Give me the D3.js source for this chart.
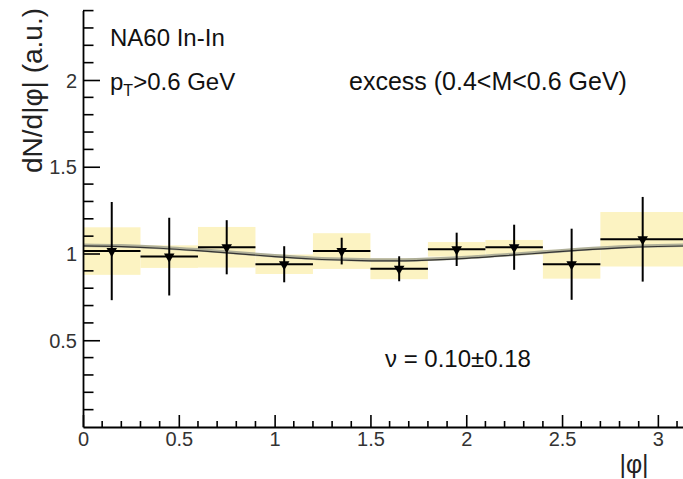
<!DOCTYPE html>
<html>
<head>
<meta charset="utf-8">
<script src="https://cdn.jsdelivr.net/npm/d3@7/dist/d3.min.js"></script>
<style>
  html, body { margin: 0; padding: 0; background: #fff; }
  svg { display: block; font-family: "Liberation Sans", Arial, Helvetica, sans-serif; }
</style>
</head>
<body>
<svg id="chart" width="683" height="479"></svg>
<script>
// |phi| bins (last bin closes at pi)
const binLow  = [0.0, 0.3, 0.6, 0.9, 1.2, 1.5, 1.8, 2.1, 2.4, 2.7];
const binHigh = [0.3, 0.6, 0.9, 1.2, 1.5, 1.8, 2.1, 2.4, 2.7, Math.PI];

// excess yield per bin, statistical and systematic errors
const yieldVal = [1.014, 0.982, 1.036, 0.938, 1.014, 0.912, 1.024, 1.036, 0.938, 1.082];
const statErr  = [0.283, 0.224, 0.156, 0.104, 0.077, 0.072, 0.096, 0.130, 0.205, 0.244];
const sysErr   = [0.137, 0.065, 0.117, 0.056, 0.103, 0.060, 0.042, 0.042, 0.083, 0.157];

// fitted curve sampled along |phi|
const fitPhi = [0.0, 0.2, 0.4, 0.6, 0.8, 1.0, 1.2, 1.4, 1.6, 1.8, 2.0, 2.2, 2.4, 2.6, 2.8, 3.0, Math.PI];
const fitVal = [1.048, 1.044, 1.035, 1.021, 1.004, 0.987, 0.973, 0.965, 0.962, 0.967, 0.977, 0.992, 1.008, 1.024, 1.037, 1.045, 1.048];

// axis ticks and labels
const xMajor = [0, 0.5, 1, 1.5, 2, 2.5, 3];
const xLabels = ["0", "0.5", "1", "1.5", "2", "2.5", "3"];
const yMajor = [0.5, 1, 1.5, 2];
const yLabels = ["0.5", "1", "1.5", "2"];

const svg = d3.select("#chart");

const x = d3.scaleLinear().domain([0, Math.PI]).range([83, 685]);
const y = d3.scaleLinear().domain([0, 2.4]).range([427, 10.6]);

const bins = binLow.map((lo, i) => ({
  lo, hi: binHigh[i], c: (lo + binHigh[i]) / 2,
  v: yieldVal[i], e: statErr[i], s: sysErr[i]
}));

// systematic boxes
svg.append("g").selectAll("rect").data(bins).join("rect")
  .attr("x", d => x(d.lo))
  .attr("width", d => x(d.hi) - x(d.lo))
  .attr("y", d => y(d.v + d.s))
  .attr("height", d => y(d.v - d.s) - y(d.v + d.s))
  .attr("fill", "#fcf3c2");

// fit curve
const fitPts = fitPhi.map((p, i) => [p, fitVal[i]]);
const fitLine = d3.line().x(d => x(d[0])).y(d => y(d[1])).curve(d3.curveMonotoneX);
svg.append("path").datum(fitPts)
  .attr("d", fitLine).attr("fill", "none")
  .attr("stroke", "#afaf98").attr("stroke-width", 3.5);
svg.append("path").datum(fitPts)
  .attr("d", fitLine).attr("fill", "none")
  .attr("stroke", "#333").attr("stroke-width", 1.2)
  .attr("transform", "translate(0,0.8)");

// data points with error bars
const pts = svg.append("g");
pts.selectAll("line.h").data(bins).join("line").attr("class", "h")
  .attr("x1", d => x(d.lo)).attr("x2", d => x(d.hi))
  .attr("y1", d => y(d.v)).attr("y2", d => y(d.v))
  .attr("stroke", "#000").attr("stroke-width", 2);
pts.selectAll("line.v").data(bins).join("line").attr("class", "v")
  .attr("x1", d => x(d.c)).attr("x2", d => x(d.c))
  .attr("y1", d => y(d.v + d.e)).attr("y2", d => y(d.v - d.e))
  .attr("stroke", "#000").attr("stroke-width", 2);
pts.selectAll("path").data(bins).join("path")
  .attr("d", d3.symbol(d3.symbolTriangle, 48))
  .attr("transform", d => `translate(${x(d.c)},${y(d.v)}) rotate(180)`)
  .attr("fill", "#000");

// axes
const axisColor = "#000";
const xMinor = d3.range(0, 32).map(i => i / 10).filter(v => !xMajor.some(m => Math.abs(m - v) < 1e-6));
const yMinor = d3.range(0, 25).map(i => i / 10).filter(v => !yMajor.some(m => Math.abs(m - v) < 1e-6) && v > 0);

const gx = svg.append("g").attr("transform", `translate(0,${y(0)})`);
gx.call(d3.axisBottom(x).tickValues(xMajor).tickFormat((d, i) => xLabels[i])
  .tickSizeInner(-12).tickSizeOuter(0).tickPadding(5));
gx.append("g").selectAll("line").data(xMinor).join("line")
  .attr("x1", d => x(d)).attr("x2", d => x(d)).attr("y1", 0).attr("y2", -6)
  .attr("stroke", axisColor).attr("stroke-width", 1.6);

const gy = svg.append("g").attr("transform", `translate(${x(0)},0)`);
gy.call(d3.axisLeft(y).tickValues(yMajor).tickFormat((d, i) => yLabels[i])
  .tickSizeInner(-17).tickSizeOuter(0).tickPadding(6));
gy.append("g").selectAll("line").data(yMinor).join("line")
  .attr("x1", 0).attr("x2", 10.5).attr("y1", d => y(d)).attr("y2", d => y(d))
  .attr("stroke", axisColor).attr("stroke-width", 1.6);

[gx, gy].forEach(g => {
  g.select(".domain").attr("stroke", axisColor).attr("stroke-width", 1.8);
  g.selectAll(".tick line").attr("stroke", axisColor).attr("stroke-width", 1.6);
  g.selectAll(".tick text").attr("fill", "#333").style("font-size", "20px")
    .style("font-family", "'Liberation Sans', Arial, sans-serif");
});
gy.selectAll(".tick text").attr("dy", "0.36em");

// axis titles
svg.append("text")
  .attr("transform", `translate(42,8) rotate(-90)`)
  .attr("text-anchor", "end")
  .style("font-size", "28px").attr("fill", "#222")
  .text("dN/d|φ| (a.u.)");
svg.append("text")
  .attr("x", 634).attr("y", 473).attr("text-anchor", "middle")
  .style("font-size", "25px").attr("fill", "#222")
  .text("|φ|");

// annotations
const ann = svg.append("g").attr("fill", "#111").style("font-size", "24px");
ann.append("text").attr("x", 110).attr("y", 46).text("NA60 In-In");
const pt = ann.append("text").attr("x", 110).attr("y", 90);
pt.append("tspan").text("p");
pt.append("tspan").attr("dy", 6).style("font-size", "16px").text("T");
pt.append("tspan").attr("dy", -6).text(">0.6 GeV");
ann.append("text").attr("x", 349).attr("y", 90).style("font-size", "25px")
  .text("excess (0.4<M<0.6 GeV)");
ann.append("text").attr("x", 385).attr("y", 367).text("ν = 0.10±0.18");
</script>
</body>
</html>
